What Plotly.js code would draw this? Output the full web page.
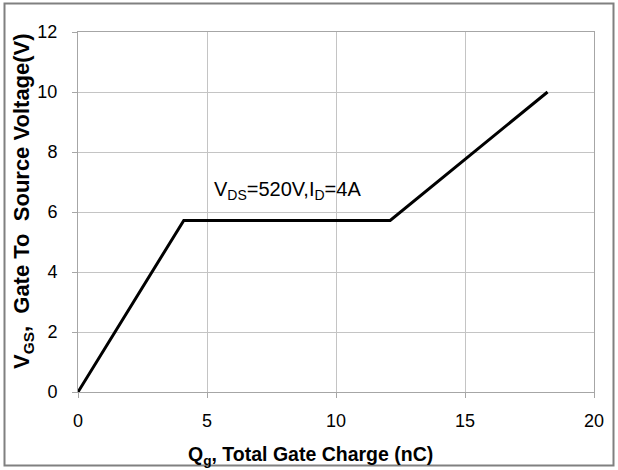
<!DOCTYPE html>
<html><head><meta charset="utf-8">
<script src="https://cdn.plot.ly/plotly-3.0.1.min.js"></script>
<style>html,body{margin:0;padding:0;background:#fff;}#chart{width:618px;height:470px;}</style>
</head><body><div id="chart"></div>
<script>
// Gate charge curve
const qg = [0, 4.1, 12.1, 18.2];           // nC
const vgs = [0, 5.72, 5.72, 10];           // V
const xTicks = [0, 5, 10, 15, 20];
const yTicks = [0, 2, 4, 6, 8, 10, 12];
const xTitle = '<b>Q<sub>g</sub>, Total Gate Charge (nC)</b>';
const yTitle = '<b>V<sub>GS</sub>,  Gate To  Source Voltage(V)</b>';
const annotText = 'V<sub>DS</sub>=520V,I<sub>D</sub>=4A';
const annotX = 5.2, annotY = 6.72;

const font = 'Arial, "Liberation Sans", sans-serif';
const trace = {x: qg, y: vgs, mode: 'lines', line: {color: '#000', width: 3}, hoverinfo: 'none'};
const L = 78, R = 24, T = 32, B = 78, W = 618, H = 470;
const pw = W - L - R, ph = H - T - B;
const px = v => (v - L) / pw;          // pixel x -> paper
const py = v => (H - B - v) / ph;      // pixel y -> paper
const axisCommon = {
  showgrid: true, gridcolor: '#c4c4c4', gridwidth: 1,
  showline: true, linecolor: '#a6a6a6', linewidth: 1, mirror: true,
  zeroline: false, ticks: 'outside', ticklen: 5, tickcolor: '#a6a6a6',
  tickfont: {size: 18, family: font, color: '#000'}
};
const layout = {
  width: W, height: H,
  margin: {l: L, r: R, t: T, b: B, pad: 0},
  paper_bgcolor: '#fff', plot_bgcolor: '#fff',
  showlegend: false,
  font: {family: font, color: '#000'},
  xaxis: Object.assign({range: [0, 20], tickvals: xTicks, ticktext: xTicks.map(String), ticklabelstandoff: 7}, axisCommon),
  yaxis: Object.assign({range: [0, 12], tickvals: yTicks, ticktext: yTicks.map(String), ticklabelstandoff: 11}, axisCommon),
  annotations: [
    {x: annotX, y: annotY, xref: 'x', yref: 'y', text: annotText, showarrow: false,
     xanchor: 'left', yanchor: 'middle', font: {size: 20, family: font, color: '#000'}},
    {x: px(310), y: py(455), xref: 'paper', yref: 'paper', text: xTitle, showarrow: false,
     xanchor: 'center', yanchor: 'middle', font: {size: 19.5, family: font, color: '#000'}},
    {x: px(23), y: py(201), xref: 'paper', yref: 'paper', text: yTitle, showarrow: false, textangle: -90,
     xanchor: 'center', yanchor: 'middle', font: {size: 22, family: font, color: '#000'}}
  ],
  shapes: [{
    type: 'rect', xref: 'paper', yref: 'paper', layer: 'below',
    x0: px(4.5), x1: px(613.5), y0: py(465.5), y1: py(3.5),
    line: {color: '#808080', width: 2}
  }]
};
Plotly.newPlot('chart', [trace], layout, {displayModeBar: false, staticPlot: true});
</script></body></html>
